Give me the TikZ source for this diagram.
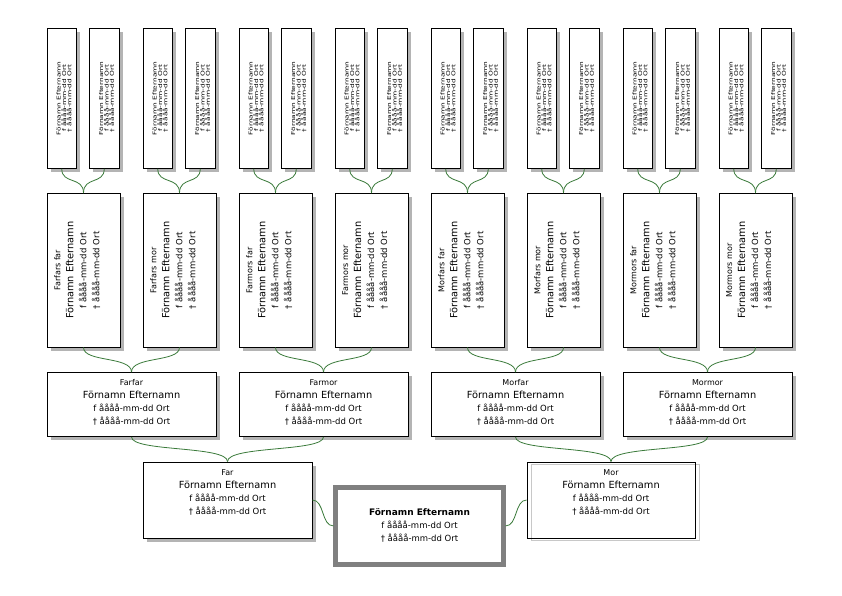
\documentclass[tikz,border=0pt]{standalone}
\usepackage{fontspec}
\setmainfont{DejaVu Sans}
\newfontfamily\tinyf[FakeStretch=1.4]{DejaVu Sans}
\definecolor{connc}{RGB}{58,122,58}
\definecolor{shadc}{RGB}{180,180,180}
\definecolor{ghost}{RGB}{200,200,200}
\tikzset{
  box/.style={draw=black, fill=white, line width=0.9pt, inner sep=0pt},
  conn/.style={draw=connc, line width=0.8pt},
  txt/.style={inner sep=0pt, align=center, font=\fontsize{8.5}{13}\selectfont},
  tinytxt/.style={inner sep=0pt, align=center, font=\tinyf\fontsize{5.3}{5.3}\selectfont},
  shadow/.style={fill=shadc, draw=none}
}
\newcommand{\lab}{\fontsize{8}{13}\selectfont}
\newcommand{\nm}{\fontsize{9.8}{13}\selectfont}
\begin{document}
\begin{tikzpicture}[x=1pt,y=-1pt]
\useasboundingbox (0,0) rectangle (842,595);
\fill[white] (0,0) rectangle (842,595);

% generation 4 (top row)
\foreach \g in {0,...,7}{
  \foreach \k in {0,1}{
    \pgfmathsetmacro\xl{47+96*\g+42.5*\k}
    \pgfmathtruncatemacro\i{2*\g+\k}
    \fill[shadow] (\xl+3.5,31.8) rectangle (\xl+33,171.8);
    \node[box, minimum width=29.5pt, minimum height=140pt] (g4-\i) at (\xl+14.75,98.3) {};
    \node[tinytxt, rotate=90, anchor=north] (t4-\i) at (\xl+9.5,98.3)
      {Förnamn Efternamn\\f åååå-mm-dd Ort\\† åååå-mm-dd Ort};
  }
}

% generation 3 (rotated boxes)
\foreach \g/\lbl in {0/Farfars far,1/Farfars mor,2/Farmors far,3/Farmors mor,4/Morfars far,5/Morfars mor,6/Mormors far,7/Mormors mor}{
  \pgfmathsetmacro\xl{47+96*\g}
  \fill[shadow] (\xl+3.5,197) rectangle (\xl+76.5,350.5);
  \node[box, minimum width=73pt, minimum height=153.5pt] (g3-\g) at (\xl+36.5,270.25) {};
  \node[txt, rotate=90, anchor=north] (t3-\g) at (\xl+7,270.25)
    {{\lab \lbl}\\{\nm Förnamn Efternamn}\\f åååå-mm-dd Ort\\† åååå-mm-dd Ort};
}

% generation 2
\foreach \k/\lbl in {0/Farfar,1/Farmor,2/Morfar,3/Mormor}{
  \pgfmathsetmacro\xl{47+192*\k}
  \fill[shadow] (\xl+3.5,376) rectangle (\xl+172.5,440);
  \node[box, minimum width=169pt, minimum height=64pt] (g2-\k) at (\xl+84.5,404.5) {};
  \node[txt, anchor=north] (t2-\k) at (\xl+84.5,379.5)
    {{\lab \lbl}\\{\nm Förnamn Efternamn}\\f åååå-mm-dd Ort\\† åååå-mm-dd Ort};
}

% generation 1
\fill[shadow] (146.5,465.5) rectangle (315.5,541.5);
\node[box, minimum width=169pt, minimum height=76pt] (far) at (227.5,500) {};
\node[txt, anchor=north] (t-far) at (227.5,469)
  {{\lab Far}\\{\nm Förnamn Efternamn}\\f åååå-mm-dd Ort\\† åååå-mm-dd Ort};

\draw[ghost, line width=0.9pt] (531,464.5) rectangle (699,540.5);
\node[box, fill=none, minimum width=168pt, minimum height=76pt] (mor) at (611,500) {};
\node[txt, anchor=north] (t-mor) at (611,469)
  {{\lab Mor}\\{\nm Förnamn Efternamn}\\f åååå-mm-dd Ort\\† åååå-mm-dd Ort};

% proband
\node[box, draw=black!50, line width=5pt, minimum width=167.4pt, minimum height=76.7pt, txt] (me) at (419.5,525.9)
  {{\bfseries\fontsize{9}{13}\selectfont Förnamn Efternamn}\\f åååå-mm-dd Ort\\† åååå-mm-dd Ort};

% connectors
\foreach \g in {0,...,7}{
  \pgfmathtruncatemacro\a{2*\g}
  \pgfmathtruncatemacro\b{2*\g+1}
  \draw[conn] (g4-\a.south) .. controls +(0,16) and +(0,-17) .. (g3-\g.north);
  \draw[conn] (g4-\b.south) .. controls +(0,16) and +(0,-17) .. (g3-\g.north);
}
\foreach \k in {0,...,3}{
  \pgfmathtruncatemacro\a{2*\k}
  \pgfmathtruncatemacro\b{2*\k+1}
  \draw[conn] (g3-\a.south) .. controls +(0,15) and +(0,-16) .. (g2-\k.north);
  \draw[conn] (g3-\b.south) .. controls +(0,15) and +(0,-16) .. (g2-\k.north);
}
\draw[conn] (g2-0.south) .. controls +(0,15) and +(0,-16) .. (far.north);
\draw[conn] (g2-1.south) .. controls +(0,15) and +(0,-16) .. (far.north);
\draw[conn] (g2-2.south) .. controls +(0,15) and +(0,-16) .. (mor.north);
\draw[conn] (g2-3.south) .. controls +(0,15) and +(0,-16) .. (mor.north);
\draw[conn] (far.east) .. controls +(12,0) and +(-12,0) .. (me.west);
\draw[conn] (me.east) .. controls +(12,0) and +(-12,0) .. (mor.west);
\end{tikzpicture}
\end{document}
